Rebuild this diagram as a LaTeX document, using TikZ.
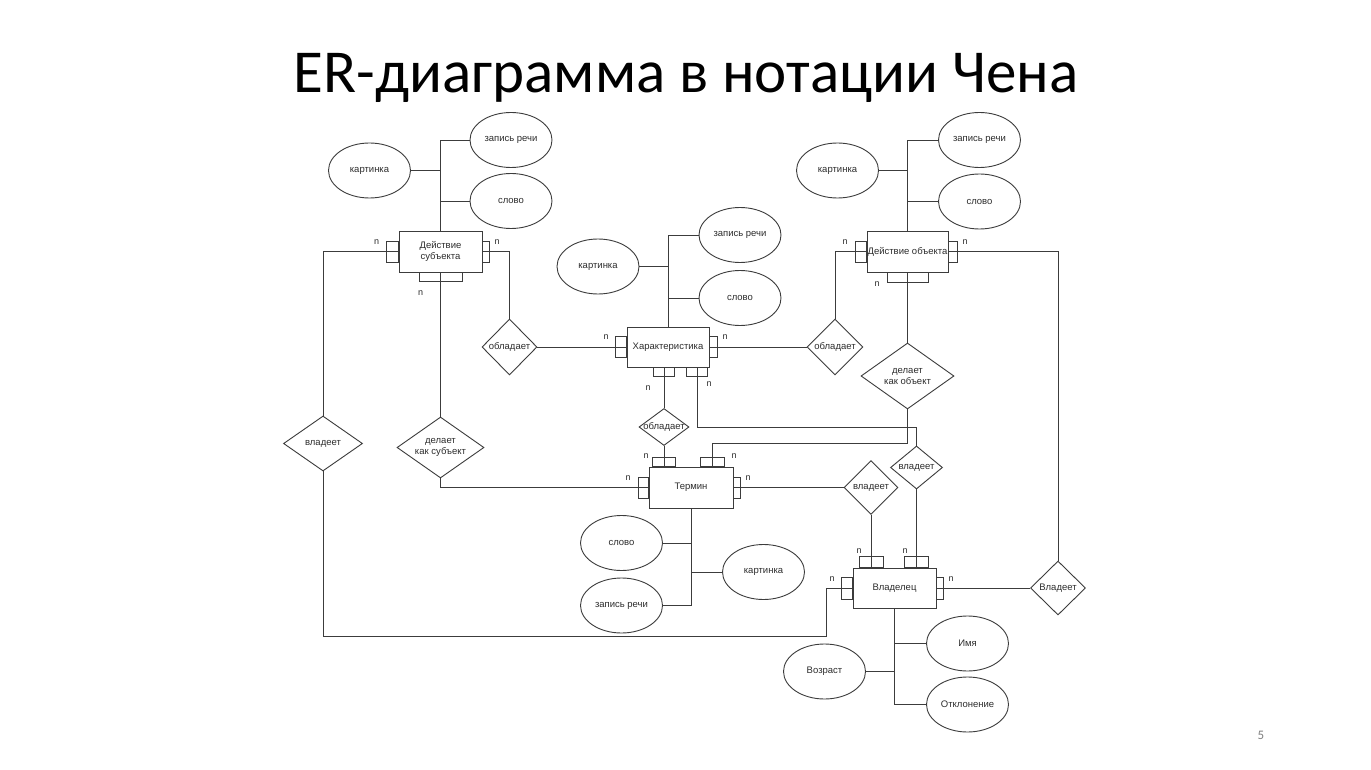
\documentclass[tikz,border=0pt]{standalone}
\usepackage{fontspec}
\setmainfont{Liberation Sans}
\newfontfamily\titlefont{Carlito}
\usetikzlibrary{shapes.geometric}
\definecolor{ln}{RGB}{60,60,60}
\definecolor{tx}{RGB}{45,45,45}
\begin{document}
\begin{tikzpicture}[x=1pt,y=-1pt,
  every node/.style={font=\fontsize{9.5}{11}\selectfont, text=tx},
  ent/.style={draw=ln, line width=0.9pt, rectangle, inner sep=0pt, fill=white, align=center},
  stub/.style={draw=ln, line width=0.9pt, rectangle, inner sep=0pt},
  rel/.style={draw=ln, line width=0.9pt, diamond, inner sep=0pt, fill=white},
  attr/.style={draw=ln, line width=0.9pt, ellipse, inner sep=0pt, fill=white, minimum width=82pt, minimum height=55pt},
  lnk/.style={draw=ln, line width=0.9pt},
  card/.style={inner sep=0pt, font=\fontsize{9}{10}\selectfont}
]
\useasboundingbox[fill=white] (0,0) rectangle (1371,770);

% title and page number
\node[font=\titlefont\fontsize{61}{70}\selectfont, text=black, anchor=base] (title) at (686,93) {ER-диаграмма в нотации Чена};
\node[font=\titlefont\fontsize{13}{14}\selectfont, text=gray] (pg) at (1261,735) {5};

% entities
\node[ent, minimum width=83pt, minimum height=41pt] (ds) at (440.5,251.5) {Действие\\субъекта};
\node[ent, minimum width=82pt, minimum height=40pt] (ch) at (668,347) {Характеристика};
\node[ent, minimum width=81pt, minimum height=41pt] (do) at (907.5,251.5) {Действие объекта};
\node[ent, minimum width=84pt, minimum height=41pt] (tm) at (691,487.5) {Термин};
\node[ent, minimum width=83pt, minimum height=40pt] (vl) at (894.5,588) {Владелец};

% stubs
\node[stub, minimum width=12pt, minimum height=21pt, anchor=east] (dsl) at (ds.west) {};
\node[stub, minimum width=7pt, minimum height=21pt, anchor=west] (dsr) at (ds.east) {};
\node[stub, minimum width=43pt, minimum height=9pt, anchor=north] (dsb) at (ds.south) {};

\node[stub, minimum width=11pt, minimum height=21pt, anchor=east] (chl) at (ch.west) {};
\node[stub, minimum width=8pt, minimum height=21pt, anchor=west] (chr) at (ch.east) {};
\node[stub, minimum width=21pt, minimum height=9pt, anchor=north] (chb1) at ([xshift=-4pt]ch.south) {};
\node[stub, minimum width=21pt, minimum height=9pt, anchor=north] (chb2) at ([xshift=29pt]ch.south) {};

\node[stub, minimum width=11pt, minimum height=21pt, anchor=east] (dol) at (do.west) {};
\node[stub, minimum width=9pt, minimum height=21pt, anchor=west] (dor) at (do.east) {};
\node[stub, minimum width=41pt, minimum height=10pt, anchor=north] (dob) at (do.south) {};

\node[stub, minimum width=23pt, minimum height=9pt, anchor=south] (tmt1) at ([xshift=-27pt]tm.north) {};
\node[stub, minimum width=24pt, minimum height=9pt, anchor=south] (tmt2) at ([xshift=21pt]tm.north) {};
\node[stub, minimum width=10pt, minimum height=21pt, anchor=east] (tml) at (tm.west) {};
\node[stub, minimum width=7pt, minimum height=21pt, anchor=west] (tmr) at (tm.east) {};

\node[stub, minimum width=24pt, minimum height=11pt, anchor=south] (vlt1) at ([xshift=-23.5pt]vl.north) {};
\node[stub, minimum width=24pt, minimum height=11pt, anchor=south] (vlt2) at ([xshift=22pt]vl.north) {};
\node[stub, minimum width=11pt, minimum height=22pt, anchor=east] (vll) at (vl.west) {};
\node[stub, minimum width=7pt, minimum height=22pt, anchor=west] (vlr) at (vl.east) {};

% relationships
\node[rel, minimum width=55pt, minimum height=56pt, label=center:обладает] (rob1) at (509.5,347) {};
\node[rel, minimum width=56pt, minimum height=56pt, label=center:обладает] (rob2) at (835,347) {};
\node[rel, minimum width=50pt, minimum height=37pt, label=center:обладает] (rob3) at (664,427) {};
\node[rel, minimum width=79pt, minimum height=55pt, label=center:владеет] (rvl1) at (323,443.5) {};
\node[rel, minimum width=87pt, minimum height=61pt, label={[align=center]center:делает\\как субъект}] (rdks) at (440.5,447.5) {};
\node[rel, minimum width=93pt, minimum height=66pt, label={[align=center]center:делает\\как объект}] (rdko) at (907.5,376) {};
\node[rel, minimum width=54pt, minimum height=54pt, label=center:владеет] (rvl2) at (871,487.5) {};
\node[rel, minimum width=52pt, minimum height=43pt, label=center:владеет] (rvl3) at (916.5,467.5) {};
\node[rel, minimum width=55pt, minimum height=54pt, label=center:Владеет] (rvl4) at (1058,588) {};

% attributes
\node[attr] (dszr) at (511,140) {запись речи};
\node[attr] (dskr) at (369.5,170.5) {картинка};
\node[attr] (dssl) at (511,201) {слово};
\node[attr] (chzr) at (740,235) {запись речи};
\node[attr] (chkr) at (598,266.5) {картинка};
\node[attr] (chsl) at (740,298) {слово};
\node[attr] (dozr) at (979.5,140) {запись речи};
\node[attr] (dokr) at (837.5,170.5) {картинка};
\node[attr] (dosl) at (979.5,201.5) {слово};
\node[attr] (tmsl) at (621.5,543) {слово};
\node[attr] (tmzr) at (621.5,605.5) {запись речи};
\node[attr] (tmkr) at (763.5,572) {картинка};
\node[attr] (vlim) at (967.5,643.5) {Имя};
\node[attr] (vlvz) at (824.5,671.5) {Возраст};
\node[attr] (vlot) at (967.5,704.5) {Отклонение};

% attribute links
\draw[lnk] (dszr.west) -| (ds.north);
\draw[lnk] (dskr.east) -| (ds.north);
\draw[lnk] (dssl.west) -| (ds.north);
\draw[lnk] (chzr.west) -| (ch.north);
\draw[lnk] (chkr.east) -| (ch.north);
\draw[lnk] (chsl.west) -| (ch.north);
\draw[lnk] (dozr.west) -| (do.north);
\draw[lnk] (dokr.east) -| (do.north);
\draw[lnk] (dosl.west) -| (do.north);
\draw[lnk] (tmsl.east) -| (tm.south);
\draw[lnk] (tmzr.east) -| (tm.south);
\draw[lnk] (tmkr.west) -| (tm.south);
\draw[lnk] (vlim.west) -| (vl.south);
\draw[lnk] (vlvz.east) -| (vl.south);
\draw[lnk] (vlot.west) -| (vl.south);

% relationship links
\coordinate (bend1) at (826,636);
\coordinate (c1) at (712,443);
\coordinate (c2) at (916.5,427);
\draw[lnk] (ds.west) -| (rvl1.north);
\draw[lnk] (rvl1.south) |- (bend1) |- (vl.west);
\draw[lnk] (ds.east) -| (rob1.north);
\draw[lnk] (rob1.east) -- (ch.west);
\draw[lnk] (ch.east) -- (rob2.west);
\draw[lnk] (rob2.north) |- (do.west);
\draw[lnk] (ds.south) -- (rdks.north);
\draw[lnk] (rdks.south) |- (tm.west);
\draw[lnk] (do.south) -- (rdko.north);
\draw[lnk] (rdko.south) |- (c1) -- (tmt2.south);
\draw[lnk] (chb2.north) |- (c2) -- (rvl3.north);
\draw[lnk] (chb1.north) -- (rob3.north);
\draw[lnk] (rob3.south) -- (tmt1.south);
\draw[lnk] (tm.east) -- (rvl2.west);
\draw[lnk] (rvl2.south) -- (vlt1.south);
\draw[lnk] (rvl3.south) -- (vlt2.south);
\draw[lnk] (do.east) -| (rvl4.north);
\draw[lnk] (vl.east) -- (rvl4.west);

% cardinalities
\node[card] (n1) at (376.5,242) {n};
\node[card] (n2) at (497,242) {n};
\node[card] (n3) at (420.5,293.5) {n};
\node[card] (n4) at (606,337) {n};
\node[card] (n5) at (725,337) {n};
\node[card] (n6) at (648,388.5) {n};
\node[card] (n7) at (709,384) {n};
\node[card] (n8) at (845,242.5) {n};
\node[card] (n9) at (965,242.5) {n};
\node[card] (n10) at (877,284.5) {n};
\node[card] (n11) at (646,456) {n};
\node[card] (n12) at (734,456) {n};
\node[card] (n13) at (628,478) {n};
\node[card] (n14) at (748,478) {n};
\node[card] (n15) at (859,551) {n};
\node[card] (n16) at (905,551) {n};
\node[card] (n17) at (832,579) {n};
\node[card] (n18) at (951,579) {n};
\end{tikzpicture}
\end{document}
